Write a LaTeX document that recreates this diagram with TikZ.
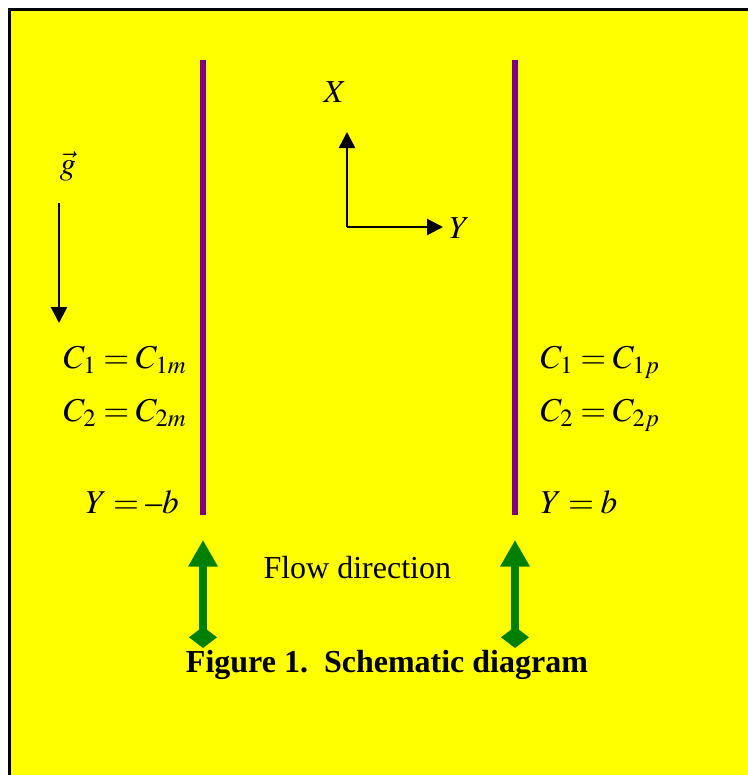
\documentclass[tikz,border=0pt]{standalone}
\usepackage{mathptmx}
\usepackage{fontspec}
\setmainfont{Liberation Serif}
\definecolor{panel}{RGB}{255,255,0}
\definecolor{wall}{RGB}{128,0,128}
\definecolor{flowgreen}{RGB}{0,128,0}
\usetikzlibrary{arrows.meta}
\newcommand{\eqnfont}{\fontsize{12.5pt}{15pt}\selectfont\thickmuskip=3.5mu\relax}
\newcommand{\shortminus}{\mbox{\normalfont\fontsize{12.5pt}{15pt}\selectfont –}}
\tikzset{
  txt/.style={inner sep=0pt, font=\fontsize{12pt}{14pt}\selectfont},
  eqn/.style={inner sep=0pt, font=\eqnfont, anchor=base west},
  plate/.style={wall, line width=2.1pt},
  axis/.style={-{Triangle[width=6pt,length=6pt]}, line width=0.95pt},
  flowarrow/.style={{Turned Square[width=10.5pt,length=8pt]}-{Triangle[width=10.5pt,length=10pt]},
                    flowgreen, line width=3pt},
}

\begin{document}
\begin{tikzpicture}[x=0.375pt,y=-0.375pt]
    \useasboundingbox (0,0) rectangle (748,775);
    % --- panel ---
    \fill[white] (0,0) rectangle (748,775);
    \fill[panel] (9.5,9.5) rectangle (748,775);
    \draw[black,line width=1.1pt] (9.5,775) -- (9.5,9.5) -- (748,9.5);
    % --- the two plates ---
    \coordinate (wallLtop) at (203,60);
    \coordinate (wallLbot) at (203,515);
    \coordinate (wallRtop) at (515,60);
    \coordinate (wallRbot) at (515,515);
    \draw[plate] (wallLtop) -- (wallLbot);
    \draw[plate] (wallRtop) -- (wallRbot);
    % --- gravity ---
    \node[txt] (gvec) at (68,166) {$\vec{g}$};
    \coordinate (gtop) at (59,203);
    \coordinate (gtip) at (59,323);
    \draw[axis] (gtop) -- (gtip);
    % --- axes ---
    \coordinate (origin) at (347,227);
    \coordinate (xtip) at (347,132);
    \coordinate (ytip) at (443,227);
    \draw[axis] (origin) -- (xtip);
    \draw[axis] (origin) -- (ytip);
    \node[txt] (labX) at (335,92) {$X$};
    \node[txt,anchor=west] (labY) at (449,228) {$Y$};
    % --- boundary conditions ---
    \node[eqn] (cLone) at (63,368) {$C_1 = C_{1m}$};
    \node[eqn] (cLtwo) at (63,421) {$C_2 = C_{2m}$};
    \node[eqn] (yLeft) at (85,513) {$Y = \shortminus b$};
    \node[eqn] (cRone) at (540,368) {$C_1 = C_{1p}$};
    \node[eqn] (cRtwo) at (540,421) {$C_2 = C_{2p}$};
    \node[eqn] (yRight) at (540,513) {$Y = b$};
    % --- flow ---
    \coordinate (flowLfoot) at (203,648);
    \coordinate (flowLhead) at (203,540);
    \coordinate (flowRfoot) at (515,648);
    \coordinate (flowRhead) at (515,540);
    \draw[flowarrow] (flowLfoot) -- (flowLhead);
    \draw[flowarrow] (flowRfoot) -- (flowRhead);
    \node[txt,anchor=base west] (flowtxt) at (263,578) {Flow direction};
    \node[txt,font=\fontsize{12pt}{14pt}\selectfont\bfseries] (caption) at (387,665)
      {Figure 1.\ \ Schematic diagram};
\end{tikzpicture}
\end{document}
